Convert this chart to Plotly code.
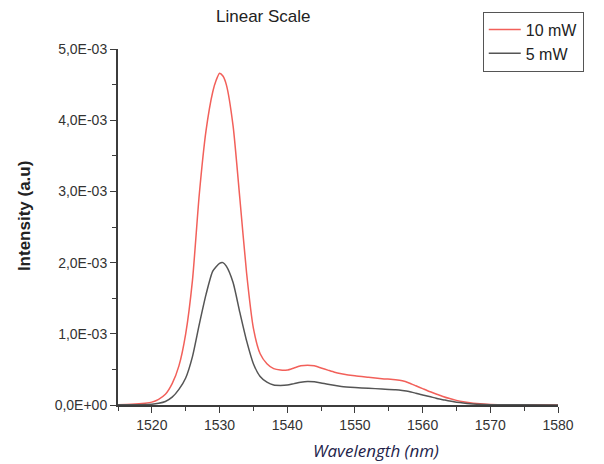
import plotly.graph_objects as go

# ---- data (intensity in units of 1e-3 a.u.) ----
wl_10mw = [1515, 1517, 1519, 1520, 1521, 1522, 1523, 1524, 1525, 1526, 1527, 1528, 1529, 1529.5,
           1530, 1530.5, 1531, 1532, 1533, 1534, 1535, 1536, 1537, 1538, 1539, 1540, 1541, 1542,
           1543, 1544, 1545, 1546, 1547, 1548, 1550, 1552, 1554, 1556, 1557, 1558, 1559, 1560,
           1561, 1562, 1563, 1564, 1565, 1566, 1567, 1568, 1570, 1573, 1576, 1580]
int_10mw = [0.005, 0.01, 0.025, 0.04, 0.08, 0.15, 0.30, 0.55, 1.0, 1.75, 2.95, 3.85, 4.40, 4.56,
            4.66, 4.62, 4.50, 3.92, 2.90, 1.85, 1.08, 0.72, 0.58, 0.51, 0.49, 0.49, 0.52, 0.55,
            0.56, 0.55, 0.52, 0.49, 0.46, 0.44, 0.41, 0.39, 0.37, 0.355, 0.34, 0.31, 0.27, 0.23,
            0.19, 0.155, 0.12, 0.09, 0.065, 0.045, 0.03, 0.02, 0.008, 0.003, 0.002, 0.001]

wl_5mw = [1515, 1518, 1520, 1521, 1522, 1523, 1524, 1525, 1526, 1527, 1528, 1529, 1530, 1530.5,
          1531, 1532, 1533, 1534, 1535, 1536, 1537, 1538, 1539, 1540, 1541, 1542, 1543, 1544,
          1545, 1546, 1548, 1550, 1552, 1554, 1556, 1557, 1558, 1559, 1560, 1561, 1562, 1563,
          1564, 1565, 1566, 1567, 1568, 1570, 1575, 1580]
int_5mw = [0.002, 0.005, 0.012, 0.025, 0.05, 0.11, 0.22, 0.38, 0.68, 1.13, 1.55, 1.88, 1.99, 2.00,
           1.95, 1.72, 1.30, 0.90, 0.58, 0.40, 0.32, 0.28, 0.275, 0.28, 0.30, 0.32, 0.33, 0.325,
           0.31, 0.29, 0.26, 0.245, 0.235, 0.225, 0.215, 0.205, 0.19, 0.165, 0.14, 0.12, 0.095, 0.075,
           0.055, 0.04, 0.028, 0.018, 0.012, 0.005, 0.002, 0.001]

y_tickvals = [0, 0.001, 0.002, 0.003, 0.004, 0.005]
y_ticktext = ["0,0E+00", "1,0E-03", "2,0E-03", "3,0E-03", "4,0E-03", "5,0E-03"]
x_tickvals = [1520, 1530, 1540, 1550, 1560, 1570, 1580]

fig = go.Figure()
fig.add_trace(go.Scatter(x=wl_10mw, y=[v * 1e-3 for v in int_10mw], mode="lines",
                         name="10 mW", line=dict(color="#f2605a", width=1.5, shape="spline", smoothing=0.6)))
fig.add_trace(go.Scatter(x=wl_5mw, y=[v * 1e-3 for v in int_5mw], mode="lines",
                         name="5 mW", line=dict(color="#555555", width=1.5, shape="spline", smoothing=0.6)))

axis_common = dict(showgrid=False, zeroline=False, showline=True, linecolor="#3c3c3c", linewidth=2,
                   ticks="outside", ticklen=6, tickwidth=1.3, tickcolor="#3c3c3c",
                   tickfont=dict(family="Liberation Sans, Arial", size=14, color="#333333"))

fig.update_xaxes(range=[1515, 1580], tickvals=x_tickvals,
                 minor=dict(dtick=5, tick0=1515, ticks="outside", ticklen=4, tickcolor="#3c3c3c", tickwidth=1.2),
                 **axis_common)
fig.update_yaxes(range=[0, 0.005], tickvals=y_tickvals, ticktext=y_ticktext,
                 minor=dict(dtick=0.0005, tick0=0, ticks="outside", ticklen=4, tickcolor="#3c3c3c", tickwidth=1.2),
                 **axis_common)

fig.update_layout(
    width=596, height=456,
    margin=dict(l=110, r=46, t=41, b=59, autoexpand=False),
    plot_bgcolor="white", paper_bgcolor="white",
    showlegend=True,
    legend=dict(x=0.829, y=1.105, xanchor="left", yanchor="top",
                bordercolor="#555555", borderwidth=1, bgcolor="white",
                font=dict(family="Liberation Sans, Arial", size=16, color="#222222"),
                tracegroupgap=0, itemwidth=32),
    annotations=[
        dict(text="Linear Scale", x=0.331, y=1.09, xref="paper", yref="paper",
             xanchor="center", yanchor="middle",
             showarrow=False, font=dict(family="Liberation Sans, Arial", size=17, color="#222222")),
        dict(text="<i>Wavelength (nm)</i>", x=0.586, y=0, xref="paper", yref="paper",
             xanchor="center", yanchor="middle", yshift=-45, showarrow=False,
             font=dict(family="Open Sans", size=17, color="#23234a")),
        dict(text="<b>Intensity (a.u)</b>", x=-0.211, y=0.531, xref="paper", yref="paper",
             xanchor="center", yanchor="middle",
             textangle=-90, showarrow=False,
             font=dict(family="Liberation Sans, Arial", size=17, color="#222222")),
    ],
)

fig.write_html("out.html")
